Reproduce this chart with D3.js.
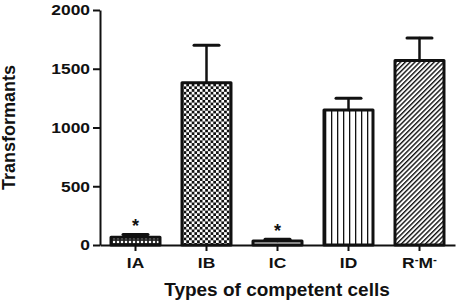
<!DOCTYPE html>
<html>
<head>
<meta charset="utf-8">
<script src="https://cdn.jsdelivr.net/npm/d3@7"></script>
<style>
  body { margin: 0; background: #fff; }
  svg { display: block; font-family: "Liberation Sans", Arial, sans-serif; }
</style>
</head>
<body>
<svg id="chart" width="459" height="303"></svg>
<script>
// data
const categories = ["IA", "IB", "IC", "ID", "R-M-"];
const means = [65, 1380, 35, 1150, 1570];
const errors = [25, 320, 15, 100, 192];
const marked = [true, false, true, false, false]; // asterisk above bar
const yTicks = [0, 500, 1000, 1500, 2000];
const patterns = ["dots", "checker", "none", "vlines", "diag"];

const svg = d3.select("#chart");
const margin = { left: 100, right: 4, top: 10, bottom: 58 };
const width = +svg.attr("width");
const height = +svg.attr("height");

const x = d3.scaleBand()
    .domain(categories)
    .range([margin.left, width - margin.right])
    .paddingInner(0.31)
    .paddingOuter(0.155);

const y = d3.scaleLinear()
    .domain([0, 2000])
    .range([height - margin.bottom, margin.top]);

// fill patterns
const defs = svg.append("defs");

const dots = defs.append("pattern").attr("id", "dots")
    .attr("patternUnits", "userSpaceOnUse").attr("width", 4).attr("height", 4);
dots.append("rect").attr("width", 4).attr("height", 4).attr("fill", "#222");
dots.append("rect").attr("x", 0.8).attr("y", 0.8).attr("width", 2.4).attr("height", 2.4)
    .attr("rx", 1).attr("fill", "#fff");

const checker = defs.append("pattern").attr("id", "checker")
    .attr("patternUnits", "userSpaceOnUse").attr("width", 5.4).attr("height", 5.4);
checker.append("rect").attr("width", 5.4).attr("height", 5.4).attr("fill", "#fff");
checker.append("rect").attr("width", 2.7).attr("height", 2.7).attr("fill", "#111");
checker.append("rect").attr("x", 2.7).attr("y", 2.7).attr("width", 2.7).attr("height", 2.7).attr("fill", "#111");

const vlines = defs.append("pattern").attr("id", "vlines")
    .attr("patternUnits", "userSpaceOnUse").attr("width", 6).attr("height", 6)
    .attr("x", x("ID") + 1);
vlines.append("rect").attr("width", 6).attr("height", 6).attr("fill", "#fff");
vlines.append("rect").attr("x", 0).attr("width", 1.3).attr("height", 6).attr("fill", "#111");

const diag = defs.append("pattern").attr("id", "diag")
    .attr("patternUnits", "userSpaceOnUse").attr("width", 3.4).attr("height", 3.4)
    .attr("patternTransform", "rotate(45)");
diag.append("rect").attr("width", 3.4).attr("height", 3.4).attr("fill", "#fff");
diag.append("rect").attr("width", 1.4).attr("height", 3.4).attr("fill", "#111");

const data = categories.map((c, i) => ({
    cat: c, mean: means[i], err: errors[i], star: marked[i], pat: patterns[i]
}));

// axes
const yAxis = svg.append("g")
    .attr("transform", `translate(${margin.left},0)`)
    .call(d3.axisLeft(y).tickValues(yTicks).tickFormat(d3.format("d"))
        .tickSize(7).tickSizeOuter(0).tickPadding(3));

const xAxis = svg.append("g")
    .attr("transform", `translate(0,${y(0)})`)
    .call(d3.axisBottom(x).tickSize(6).tickSizeOuter(0).tickPadding(3));

[yAxis, xAxis].forEach(g => {
    g.select(".domain").attr("stroke", "#111").attr("stroke-width", 2);
    g.selectAll(".tick line").attr("stroke", "#111").attr("stroke-width", 2);
    g.selectAll(".tick text")
        .attr("fill", "#111")
        .attr("font-size", 15)
        .attr("font-weight", "bold")
        .attr("font-family", "Liberation Sans, Arial, sans-serif");
});

// wide-looking tick glyphs
const sx = 1.16;
yAxis.selectAll(".tick text")
    .attr("x", -10 / sx)
    .attr("transform", `scale(${sx},1)`);
xAxis.selectAll(".tick text")
    .attr("dy", "0.72em")
    .attr("y", 12)
    .attr("x", 0)
    .attr("transform", `scale(${sx},1)`)
    .each(function(d) {
        if (d === "R-M-") {
            const t = d3.select(this);
            t.text("");
            t.append("tspan").text("R");
            t.append("tspan").attr("font-size", 10).attr("dy", -5).text("-");
            t.append("tspan").attr("dy", 5).text("M");
            t.append("tspan").attr("font-size", 10).attr("dy", -5).text("-");
        }
    });

// bars
svg.append("g").selectAll("rect")
    .data(data)
    .join("rect")
    .attr("x", d => x(d.cat))
    .attr("y", d => y(d.mean))
    .attr("width", x.bandwidth())
    .attr("height", d => y(0) - y(d.mean))
    .attr("fill", d => d.pat === "none" ? "#fff" : `url(#${d.pat})`)
    .attr("stroke", "#111")
    .attr("stroke-width", 3)
    .attr("stroke-linejoin", "round");

// error bars (upper only)
const eb = svg.append("g").selectAll("g")
    .data(data)
    .join("g")
    .attr("stroke", "#111")
    .attr("stroke-linecap", "round");

eb.append("line")
    .attr("x1", d => x(d.cat) + x.bandwidth() / 2)
    .attr("x2", d => x(d.cat) + x.bandwidth() / 2)
    .attr("y1", d => y(d.mean))
    .attr("y2", d => y(d.mean + d.err))
    .attr("stroke-width", 2.5);

eb.append("line")
    .attr("x1", d => x(d.cat) + x.bandwidth() / 2 - 12.5)
    .attr("x2", d => x(d.cat) + x.bandwidth() / 2 + 12.5)
    .attr("y1", d => y(d.mean + d.err))
    .attr("y2", d => y(d.mean + d.err))
    .attr("stroke-width", 3);

// significance marks
svg.append("g").selectAll("text")
    .data(data.filter(d => d.star))
    .join("text")
    .attr("x", d => x(d.cat) + x.bandwidth() / 2)
    .attr("y", d => y(d.mean + d.err) - 2)
    .attr("text-anchor", "middle")
    .attr("font-size", 18)
    .attr("font-weight", "bold")
    .attr("fill", "#111")
    .text("*");

// axis titles
svg.append("text")
    .attr("transform", `translate(15,${(y(0) + y(2000)) / 2}) rotate(-90)`)
    .attr("text-anchor", "middle")
    .attr("font-size", 18)
    .attr("font-weight", "bold")
    .attr("fill", "#111")
    .text("Transformants");

svg.append("text")
    .attr("x", 277)
    .attr("y", 296)
    .attr("text-anchor", "middle")
    .attr("font-size", 19)
    .attr("font-weight", "bold")
    .attr("fill", "#111")
    .text("Types of competent cells");
</script>
</body>
</html>
